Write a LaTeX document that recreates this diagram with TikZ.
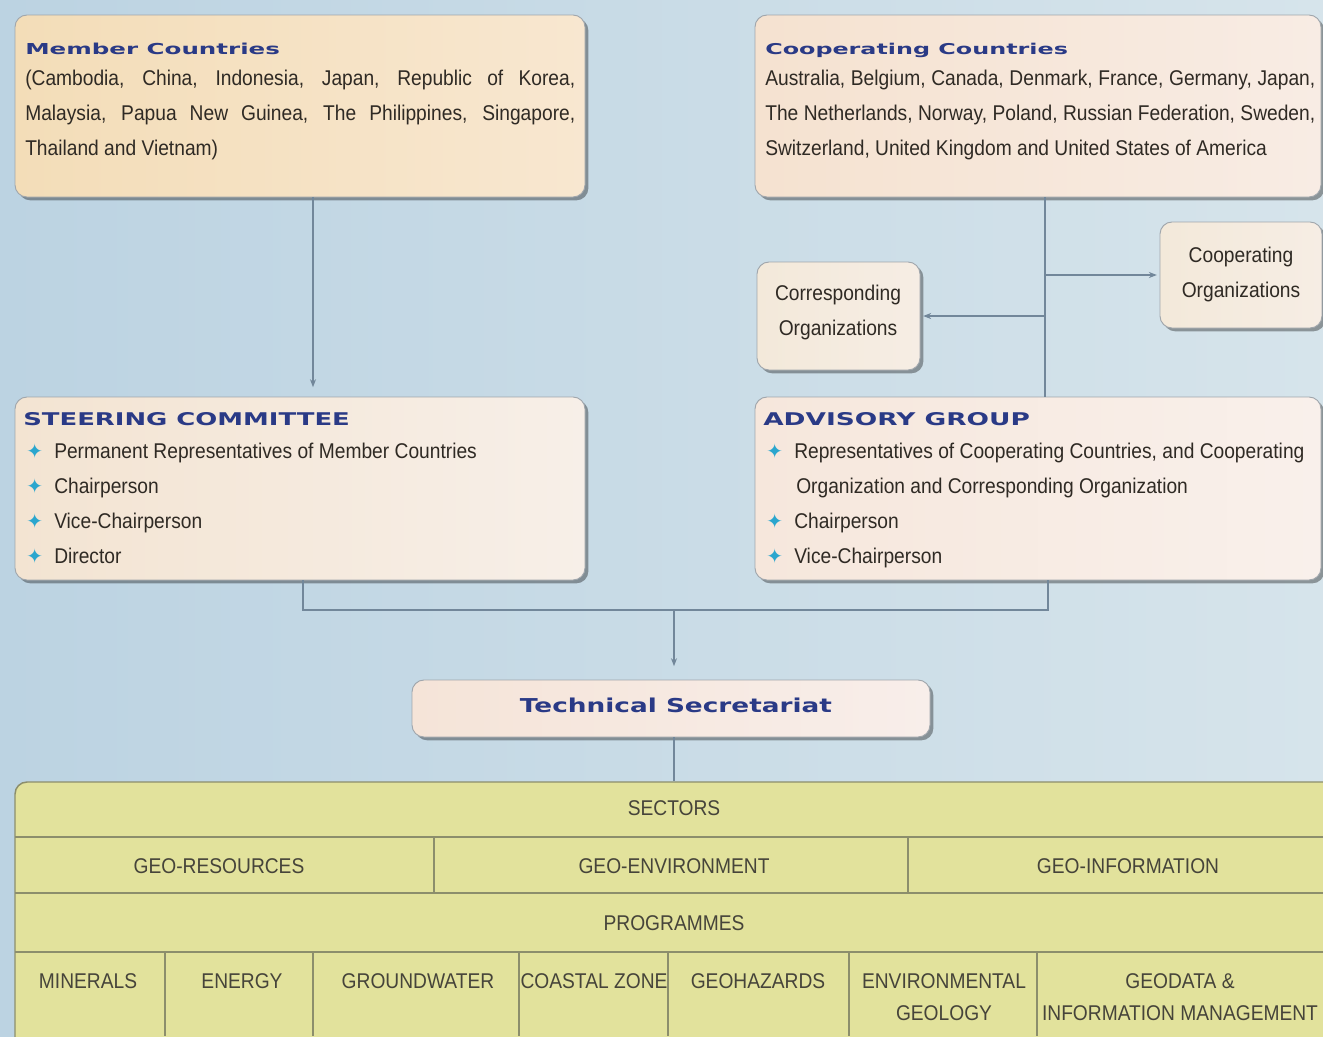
\documentclass[tikz,border=0pt]{standalone}
\usepackage{fontspec}
\setmainfont{Liberation Sans}
\newfontfamily\bodyfont[FakeStretch=0.9]{Liberation Sans}
\newfontfamily\titlefont{DejaVu Sans}
\newfontfamily\symfont{DejaVu Sans}
\usetikzlibrary{arrows.meta,shadows}

\definecolor{bgA}{HTML}{BCD3E2}
\definecolor{bgB}{HTML}{D6E4EB}
\definecolor{mcA}{HTML}{F3DDB8}
\definecolor{mcB}{HTML}{F8E7D0}
\definecolor{ccA}{HTML}{F5E2D0}
\definecolor{ccB}{HTML}{F8ECE4}
\definecolor{orgA}{HTML}{F3E9DA}
\definecolor{orgB}{HTML}{F6EDE4}
\definecolor{scA}{HTML}{F3E4D2}
\definecolor{scB}{HTML}{F7EFE8}
\definecolor{agA}{HTML}{F6E7DC}
\definecolor{agB}{HTML}{F9F0EB}
\definecolor{tsA}{HTML}{F5E4D8}
\definecolor{tsB}{HTML}{F8EEEA}
\definecolor{tblc}{HTML}{E2E29C}
\definecolor{tblline}{HTML}{8C8E6C}
\definecolor{boxline}{HTML}{A0A6AC}
\definecolor{connc}{HTML}{72879A}
\definecolor{txtc}{HTML}{2F2A24}
\definecolor{tbltxt}{HTML}{46443A}
\definecolor{ttlc}{HTML}{2A3A86}
\definecolor{bulc}{HTML}{2AA6CE}

\newcommand\jl[1]{\hbox to 412.5pt{#1}}
\newcommand\bul{\makebox[21pt][l]{\raisebox{-0.5pt}{\symfont\fontsize{15}{15}\selectfont\color{bulc}\symbol{"2726}}}}

\tikzset{
  sz/.style 2 args={minimum width=#1*0.75pt, minimum height=#2*0.75pt, inner sep=0pt},
  box/.style={draw=boxline, line width=0.7pt, rounded corners=9pt,
    drop shadow={shadow xshift=2.5pt, shadow yshift=-2.5pt, fill=black, opacity=0.35}},
  txt/.style={font=\bodyfont\fontsize{16}{18}\selectfont, text=txtc, inner sep=0pt, anchor=base west},
  ctxt/.style={txt, anchor=base},
  ttxt/.style={font=\bodyfont\fontsize{16}{18}\selectfont, text=tbltxt, inner sep=0pt, anchor=base},
  ttl/.style={font=\titlefont\bfseries, text=ttlc, inner sep=0pt, anchor=base west},
  conn/.style={draw=connc, line width=1.1pt},
  arr/.style={-{Stealth[length=6pt,width=4.5pt]}},
  tl/.style={draw=tblline, line width=1.1pt}
}

\begin{document}
\begin{tikzpicture}[x=0.75pt,y=-0.75pt]
\useasboundingbox (0,0) rectangle (1323,1036);
\clip (0,0) rectangle (1323,1036);
\fill[left color=bgA, right color=bgB] (0,0) rectangle (1323,1036);

% boxes
\node[box, sz={570}{182}, left color=mcA, right color=mcB] (mc) at (300,106) {};
\node[box, sz={566}{182}, left color=ccA, right color=ccB] (cc) at (1038,106) {};
\node[box, sz={163}{108}, left color=orgA, right color=orgB] (corr) at (838.5,316) {};
\node[box, sz={162}{106}, left color=orgA, right color=orgB] (coop) at (1241,275) {};
\node[box, sz={570}{183}, left color=scA, right color=scB] (sc) at (300,488.5) {};
\node[box, sz={566}{183}, left color=agA, right color=agB] (ag) at (1038,488.5) {};
\node[box, sz={518}{57}, left color=tsA, right color=tsB] (ts) at (671,708.5) {};
\node[box, draw=tblline, line width=1.1pt, sz={1330}{270}, fill=tblc] (tb) at (680,917) {};

% connectors
\coordinate (mx) at (313,0);
\draw[conn,arr,shorten >=7pt] (mx |- mc.south) -- (mx |- sc.north);
\coordinate (cx) at (1045,0);
\draw[conn] (cx |- cc.south) -- (cx |- ag.north);
\draw[conn,arr,shorten >=2pt] (cx |- coop.west) -- (coop.west);
\draw[conn,arr,shorten >=2pt] (cx |- corr.east) -- (corr.east);
\coordinate (bl) at (303,610);
\coordinate (br) at (1048,610);
\coordinate (bm) at (674,610);
\draw[conn] (bl |- sc.south) -- (bl) -- (br) -- (br |- ag.south);
\draw[conn,arr,shorten >=10pt] (bm) -- (bm |- ts.north);
\draw[conn] (bm |- ts.south) -- (bm |- tb.north);

% Member countries
\node[ttl] (mct) at (25,54) {\resizebox{191pt}{8.6pt}{Member Countries}};
\node[txt] (mc1) at (25,85) {\jl{(Cambodia, China, Indonesia, Japan, Republic of Korea,}};
\node[txt] (mc2) at (25,120) {\jl{Malaysia, Papua New Guinea, The Philippines, Singapore,}};
\node[txt] (mc3) at (25,155) {Thailand and Vietnam)};

% Cooperating countries
\node[ttl] (cct) at (765,54) {\resizebox{227pt}{8.5pt}{Cooperating Countries}};
\node[txt] (cc1) at (765,85) {\jl{Australia, Belgium, Canada, Denmark, France, Germany, Japan,}};
\node[txt] (cc2) at (765,120) {\jl{The Netherlands, Norway, Poland, Russian Federation, Sweden,}};
\node[txt] (cc3) at (765,155) {Switzerland, United Kingdom and United States of America};

% organizations
\node[ctxt] (corr1) at (838,300.5) {Corresponding};
\node[ctxt] (corr2) at (838,335.5) {Organizations};
\node[ctxt] (coop1) at (1241,262.5) {Cooperating};
\node[ctxt] (coop2) at (1241,297.5) {Organizations};

% Steering committee
\node[ttl] (sct) at (23,425) {\resizebox{245pt}{9.75pt}{STEERING COMMITTEE}};
\node[txt] (sc1) at (26,458) {\bul Permanent Representatives of Member Countries};
\node[txt] (sc2) at (26,493) {\bul Chairperson};
\node[txt] (sc3) at (26,528) {\bul Vice-Chairperson};
\node[txt] (sc4) at (26,563) {\bul Director};

% Advisory group
\node[ttl] (agt) at (763,425) {\resizebox{200pt}{9.75pt}{ADVISORY GROUP}};
\node[txt] (ag1) at (766,458) {\bul Representatives of Cooperating Countries, and Cooperating};
\node[txt] (ag2) at (796,493) {Organization and Corresponding Organization};
\node[txt] (ag3) at (766,528) {\bul Chairperson};
\node[txt] (ag4) at (766,563) {\bul Vice-Chairperson};

% Technical secretariat
\node[ttl, anchor=base] (tst) at (676,712) {\resizebox{234pt}{10.9pt}{Technical Secretariat}};

% table lines
\draw[tl] (15,837) -- (1323,837);
\draw[tl] (15,893) -- (1323,893);
\draw[tl] (15,952) -- (1323,952);
\foreach \x in {434,908} \draw[tl] (\x,837) -- (\x,893);
\foreach \x in {165,313,519,668,849,1037} \draw[tl] (\x,952) -- (\x,1036);

% table texts
\node[ttxt] (sec) at (674,815.5) {SECTORS};
\node[ttxt] (s1) at (219,873) {GEO-RESOURCES};
\node[ttxt] (s2) at (674,873) {GEO-ENVIRONMENT};
\node[ttxt] (s3) at (1128,873) {GEO-INFORMATION};
\node[ttxt] (prg) at (674,930.5) {PROGRAMMES};
\node[ttxt] (p1) at (88,988.5) {MINERALS};
\node[ttxt] (p2) at (242,988.5) {ENERGY};
\node[ttxt] (p3) at (418,988.5) {GROUNDWATER};
\node[ttxt] (p4) at (594,988.5) {COASTAL ZONE};
\node[ttxt] (p5) at (758,988.5) {GEOHAZARDS};
\node[ttxt] (p6a) at (944,988.5) {ENVIRONMENTAL};
\node[ttxt] (p6b) at (944,1020.5) {GEOLOGY};
\node[ttxt] (p7a) at (1180,988.5) {GEODATA \&};
\node[ttxt] (p7b) at (1180,1020.5) {INFORMATION MANAGEMENT};
\end{tikzpicture}
\end{document}
